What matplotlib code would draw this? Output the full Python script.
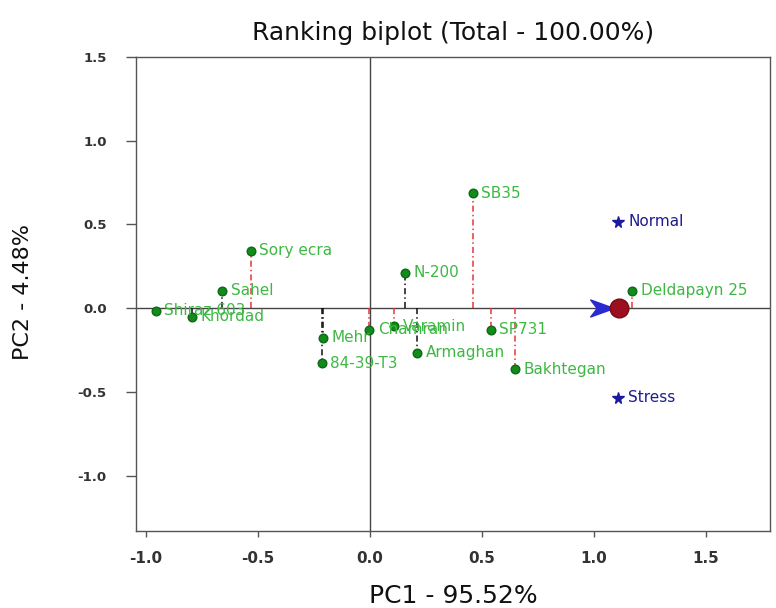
import matplotlib
matplotlib.use("Agg")
import matplotlib.pyplot as plt
from matplotlib.path import Path

# ---- data ----
genotypes = ["Sory ecra", "Sahel", "Shiraz 603", "Khordad", "Mehr", "84-39-T3",
             "Chamran", "Varamin", "N-200", "Armaghan", "SB35", "SP731",
             "Bakhtegan", "Deldapayn 25"]
g_pc1 = [-0.533, -0.659, -0.957, -0.793, -0.211, -0.216,
         -0.003, 0.108, 0.158, 0.211, 0.458, 0.540,
         0.647, 1.171]
g_pc2 = [0.342, 0.103, -0.016, -0.052, -0.175, -0.327,
         -0.127, -0.108, 0.211, -0.267, 0.688, -0.127,
         -0.364, 0.103]
proj_colors = ["red", "black", "black", "black", "black", "black",
               "red", "red", "black", "black", "red", "red",
               "red", "red"]

environments = ["Normal", "Stress"]
e_pc1 = [1.109, 1.109]
e_pc2 = [0.515, -0.535]

aec_x = 1.113
aec_y = 0.0

title = "Ranking biplot (Total - 100.00%)"
xlabel = "PC1 - 95.52%"
ylabel = "PC2 - 4.48%"
xticks = [-1.0, -0.5, 0.0, 0.5, 1.0, 1.5]
yticks = [-1.0, -0.5, 0.0, 0.5, 1.0, 1.5]

plt.rcParams['font.family'] = ['DejaVu Sans']

W, H = 776, 608
fig = plt.figure(figsize=(W / 100, H / 100), dpi=100)
ax = fig.add_axes([136 / W, 1 - 531 / H, (770 - 136) / W, (531 - 57) / H])
ax.set_xlim(-1.045, 1.786)
ax.set_ylim(-1.33, 1.5)

frame_col = "#555555"
for s in ax.spines.values():
    s.set_color(frame_col)
    s.set_linewidth(1.0)

# axis lines through origin
ax.axhline(0, color="#444444", lw=1.0, zorder=1)
ax.axvline(0, color="#444444", lw=1.0, zorder=1)

red_c = "#e8343a"
green_dot = "#138a1c"
green_txt = "#3db843"

# projection lines
for x, y, c in zip(g_pc1, g_pc2, proj_colors):
    col = red_c if c == "red" else "#111111"
    ax.plot([x, x], [0, y], linestyle=(0, (4, 2, 1, 2)), color=col, lw=1.1, zorder=2)

# genotype points
ax.plot(g_pc1, g_pc2, linestyle="none", marker="o", ms=6.2,
        color=green_dot, mec="#0d6a12", zorder=4)
for name, x, y in zip(genotypes, g_pc1, g_pc2):
    ax.annotate(name, (x, y), xytext=(6, 0), textcoords="offset points",
                va="center", ha="left", color=green_txt, fontsize=11, zorder=5)

# environments
ax.plot(e_pc1, e_pc2, linestyle="none", marker="*", ms=8.5,
        color="#1a1a9c", zorder=4)
for name, x, y in zip(environments, e_pc1, e_pc2):
    ax.annotate(name, (x, y), xytext=(7, 0), textcoords="offset points",
                va="center", ha="left", color="#1c1c8e", fontsize=11, zorder=5)

# average environment arrow head and circle
arrow_marker = Path([(-1.0, 0.72), (1.0, 0.0), (-1.0, -0.72), (-0.45, 0.0), (-1.0, 0.72)],
                    [Path.MOVETO, Path.LINETO, Path.LINETO, Path.LINETO, Path.CLOSEPOLY])
ax.plot([aec_x - 0.075], [aec_y], marker=arrow_marker, ms=17, color="#2a2ad0",
        linestyle="none", zorder=5)
ax.plot([aec_x], [aec_y], marker="o", ms=13.5, color="#9b0f1e", mec="#7a0a16",
        linestyle="none", zorder=6)

# ticks
ax.set_xticks(xticks)
ax.set_yticks(yticks)
ax.set_xticklabels([f"{v:.1f}" for v in xticks])
ax.set_yticklabels([f"{v:.1f}" for v in yticks])
ax.tick_params(axis="x", direction="out", length=4.5, width=1, color=frame_col,
               pad=10, labelsize=11, labelcolor="#333333")
ax.tick_params(axis="y", direction="out", length=7, width=1, color=frame_col,
               pad=14, labelsize=9.5, labelcolor="#333333")
for lab in ax.get_xticklabels() + ax.get_yticklabels():
    lab.set_fontweight("bold")

# titles
fig.text(453 / W, 1 - 33 / H, title, ha="center", va="center", fontsize=18, color="#111111")
fig.text(453 / W, 1 - 596 / H, xlabel, ha="center", va="center", fontsize=18, color="#111111")
fig.text(23 / W, 1 - 292 / H, ylabel, ha="center", va="center", rotation=90,
         fontsize=16, color="#111111")

fig.savefig("out.png", dpi=100)
